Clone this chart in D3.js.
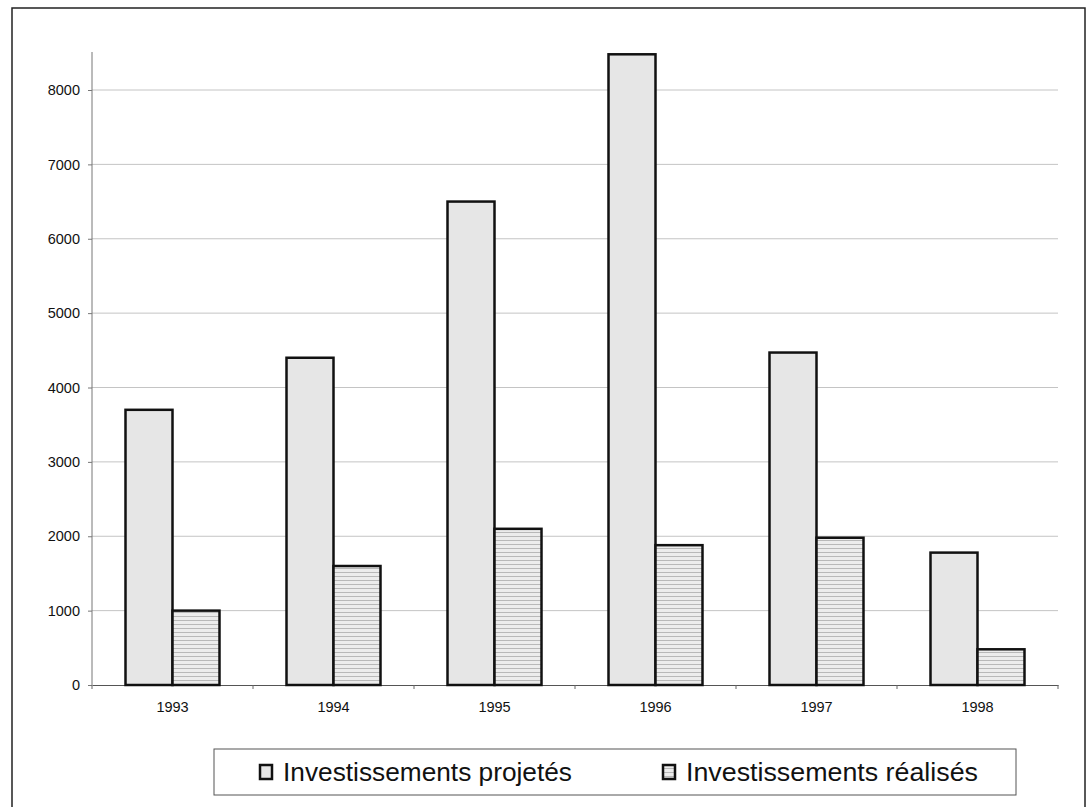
<!DOCTYPE html>
<html><head><meta charset="utf-8">
<script src="https://cdn.jsdelivr.net/npm/d3@7"></script>
<style>body{margin:0;background:#fff}svg{display:block}</style>
</head><body>
<svg id="c" width="1087" height="807"></svg>
<script>
const categories = ["1993","1994","1995","1996","1997","1998"];
const projetes = [3700, 4400, 6500, 8480, 4470, 1780];
const realises = [1000, 1600, 2100, 1880, 1980, 480];
const seriesNames = ["Investissements projetés", "Investissements réalisés"];
const yTicks = [0,1000,2000,3000,4000,5000,6000,7000,8000];

const svg = d3.select("#c");
const defs = svg.append("defs");
const pat = defs.append("pattern").attr("id","hatch").attr("patternUnits","userSpaceOnUse")
  .attr("width",6).attr("height",4);
pat.append("rect").attr("width",6).attr("height",4).attr("fill","#ececec");
pat.append("line").attr("x1",0).attr("x2",6).attr("y1",0.5).attr("y2",0.5).attr("stroke","#b8b8b8").attr("stroke-width",1);

// outer frame
svg.append("rect").attr("x",12).attr("y",8).attr("width",1073).attr("height",820)
  .attr("fill","none").attr("stroke","#222").attr("stroke-width",1.5);

const m = {l:92, r:1058, t:52, b:685};
const x = d3.scaleBand().domain(categories).range([m.l, m.r]);
const y = d3.scaleLinear().domain([0,8500]).range([m.b, m.b - 8500*(m.b-90)/8000]);

// grid
svg.append("g").selectAll("line").data(yTicks.slice(1)).join("line")
  .attr("x1",m.l).attr("x2",m.r).attr("y1",d=>y(d)).attr("y2",d=>y(d))
  .attr("stroke","#c4c4c4").attr("stroke-width",1);

// y axis
const ya = svg.append("g").attr("transform",`translate(${m.l},0)`)
  .call(d3.axisLeft(y).tickValues(yTicks).tickSize(4).tickPadding(8).tickFormat(d3.format("d")));
ya.select(".domain").attr("d",`M0,${m.t}V${m.b}`).attr("stroke","#777");
ya.selectAll(".tick line").attr("stroke","#777");
ya.selectAll("text").attr("font-family","Liberation Sans, Arial, sans-serif").attr("font-size",14.5).attr("fill","#111");

// x axis
const xa = svg.append("g").attr("transform",`translate(0,${m.b})`)
  .call(d3.axisBottom(x).tickSize(0).tickPadding(17));
xa.select(".domain").attr("stroke","#555").attr("stroke-width",1.2);
xa.selectAll("text").attr("font-family","Liberation Sans, Arial, sans-serif").attr("font-size",14.5).attr("fill","#111");
xa.selectAll(".bt").data(d3.range(categories.length+1)).join("line")
  .attr("x1",i=>m.l + i*x.step()).attr("x2",i=>m.l + i*x.step()).attr("y1",0).attr("y2",4).attr("stroke","#666");

// bars
const inner = d3.scaleBand().domain([0,1]).range([0, 94]);
const off = (x.bandwidth()-94)/2;
const g = svg.append("g");
const fills = ["#e6e6e6","url(#hatch)"];
[projetes, realises].forEach((vals, si) => {
  g.selectAll(".s"+si).data(vals).join("rect")
    .attr("x",(d,i)=>x(categories[i]) + off + inner(si))
    .attr("y",d=>y(d)).attr("width",inner.bandwidth()).attr("height",d=>y(0)-y(d))
    .attr("fill",fills[si]).attr("stroke","#111").attr("stroke-width",2.5);
});

// legend
const lg = svg.append("g");
lg.append("rect").attr("x",214).attr("y",749).attr("width",802).attr("height",46)
  .attr("fill","#fff").attr("stroke","#555").attr("stroke-width",1);
const lx = [260, 663];
const tw = [289, 292];
seriesNames.forEach((n,i)=>{
  lg.append("rect").attr("x",lx[i]).attr("y",765).attr("width",12).attr("height",14)
    .attr("fill",fills[i]).attr("stroke","#111").attr("stroke-width",2.5);
  lg.append("text").attr("x",lx[i]+23).attr("y",781).text(n)
    .attr("textLength",tw[i]).attr("lengthAdjust","spacingAndGlyphs")
    .attr("font-family","Liberation Sans, Arial, sans-serif").attr("font-size",26).attr("fill","#111");
});
</script>
</body></html>
